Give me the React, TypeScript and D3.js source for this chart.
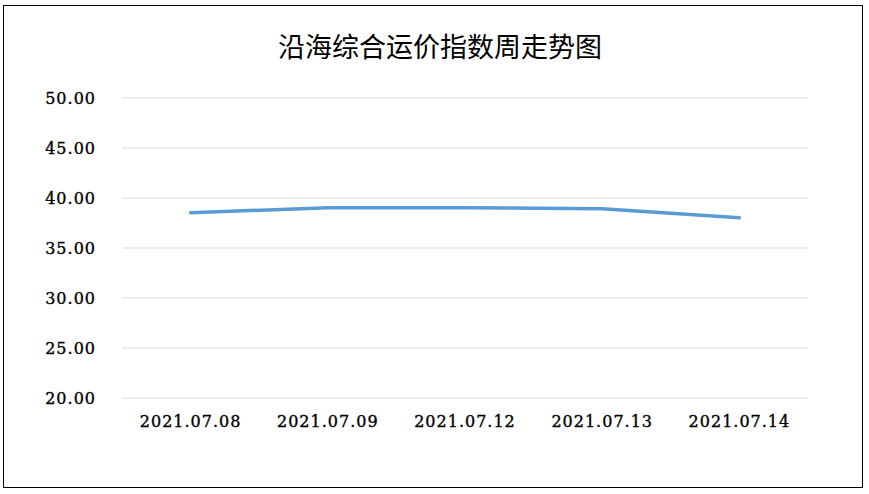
import React, { useEffect } from "react";
import * as d3 from "d3";

const title = "沿海综合运价指数周走势图";
const dates = ["2021.07.08", "2021.07.09", "2021.07.12", "2021.07.13", "2021.07.14"];
const values = [38.53, 39.03, 39.03, 38.93, 38.03];
const yTicks = [20, 25, 30, 35, 40, 45, 50];

const App: React.FC = () => {
  useEffect(() => {
    document.body.style.margin = "0";
  }, []);

  const width = 869;
  const height = 494;
  const left = 122;
  const right = 808;
  const top = 98;
  const bottom = 398;

  const x = d3.scaleBand<string>().domain(dates).range([left, right]);
  const y = d3.scaleLinear().domain([20, 50]).range([bottom, top]);

  const line = d3
    .line<number>()
    .x((_, i) => (x(dates[i]) as number) + x.bandwidth() / 2)
    .y((d) => y(d));

  const tickFont = "'DejaVu Serif', serif";

  return (
    <svg width={width} height={height} style={{ display: "block" }}>
      <rect x={0} y={0} width={width} height={height} fill="#fff" />
      <rect x={3.5} y={5.5} width={859} height={482} fill="none" stroke="#000" strokeWidth={1} />
      <text
        x={440}
        y={57}
        textAnchor="middle"
        fontSize={27}
        fontFamily="'Noto Sans CJK SC', serif"
        fill="#000"
      >
        {title}
      </text>
      {yTicks.map((t) => (
        <g key={t}>
          <line x1={left} x2={right} y1={y(t)} y2={y(t)} stroke="#d9d9d9" strokeWidth={1} />
          <text
            x={96}
            y={y(t) + 6}
            textAnchor="end"
            fontSize={16}
            letterSpacing={1}
            fontFamily={tickFont}
            fill="#000"
            stroke="#000"
            strokeWidth={0.35}
          >
            {t.toFixed(2)}
          </text>
        </g>
      ))}
      {dates.map((d) => (
        <text
          key={d}
          x={(x(d) as number) + x.bandwidth() / 2}
          y={427}
          textAnchor="middle"
          fontSize={16}
          letterSpacing={1}
          fontFamily={tickFont}
          fill="#000"
          stroke="#000"
          strokeWidth={0.35}
        >
          {d}
        </text>
      ))}
      <path
        d={line(values) as string}
        fill="none"
        stroke="#5b9bd5"
        strokeWidth={3.5}
        strokeLinecap="round"
        strokeLinejoin="round"
      />
    </svg>
  );
};

export default App;
